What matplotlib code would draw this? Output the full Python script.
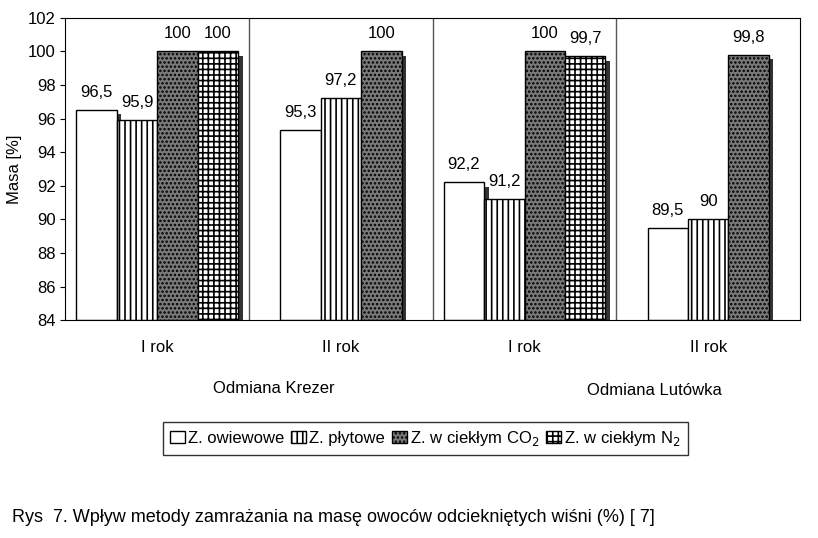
import numpy as np
import matplotlib.pyplot as plt
import matplotlib

matplotlib.rc('font', family='Liberation Sans', size=12)
matplotlib.rcParams['hatch.linewidth'] = 1.2

groups = ['I rok', 'II rok', 'I rok', 'II rok']
series = ['Z. owiewowe', 'Z. płytowe', 'Z. w ciekłym CO$_2$', 'Z. w ciekłym N$_2$']
values = [
    [96.5, 95.9, 100, 100],
    [95.3, 97.2, 100, None],
    [92.2, 91.2, 100, 99.7],
    [89.5, 90, 99.8, None],
]
labels = [
    ['96,5', '95,9', '100', '100'],
    ['95,3', '97,2', '100', None],
    ['92,2', '91,2', '100', '99,7'],
    ['89,5', '90', '99,8', None],
]
colors = ['white', 'white', '#7a7a7a', 'white']
hatches = ['', '|||', '....', '+++']

fig = plt.figure(figsize=(8.18, 5.38), dpi=100)
ax = fig.add_axes([0.08, 0.405, 0.898, 0.562])

w = 0.22
for gi, vals in enumerate(values):
    n = sum(v is not None for v in vals)
    start = gi - w * n / 2 + w / 2
    k = 0
    for si, v in enumerate(vals):
        if v is None:
            continue
        x = start + k * w
        # shadow
        ax.bar(x + 0.025, v - 84, width=w, bottom=84 - 0.25, color='#333333', zorder=1)
        ax.bar(x, v - 84, width=w, bottom=84, color=colors[si], hatch=hatches[si],
               edgecolor='black', lw=1, zorder=2)
        ax.text(x, v + 0.6, labels[gi][si], ha='center', va='bottom', fontsize=12)
        k += 1

for xd in [0.5, 1.5, 2.5]:
    ax.axvline(xd, color='#555555', lw=1)

ax.set_xlim(-0.5, 3.5)
ax.set_ylim(84, 102)
ax.set_yticks(np.arange(84, 103, 2))
ax.set_xticks([])
ax.set_ylabel('Masa [%]')
ax.tick_params(axis='y', direction='out')

for gi, g in enumerate(groups):
    fig.text(0.08 + 0.898 * (gi + 0.5) / 4, 0.345, g, ha='center', fontsize=12)
fig.text(0.335, 0.27, 'Odmiana Krezer', ha='center', fontsize=12)
fig.text(0.8, 0.265, 'Odmiana Lutówka', ha='center', fontsize=12)

handles = [plt.Rectangle((0, 0), 1, 1, facecolor=colors[i], hatch=hatches[i], edgecolor='black')
           for i in range(4)]
fig.legend(handles, series, loc='center', bbox_to_anchor=(0.52, 0.185), ncol=4,
           frameon=True, fancybox=False, edgecolor='black', handlelength=0.9,
           handletextpad=0.2, columnspacing=0.4, fontsize=12)

fig.text(0.015, 0.03, 'Rys  7. Wpływ metody zamrażania na masę owoców odciekniętych wiśni (%) [ 7]',
         fontsize=13)

fig.savefig('out.png', dpi=100)
